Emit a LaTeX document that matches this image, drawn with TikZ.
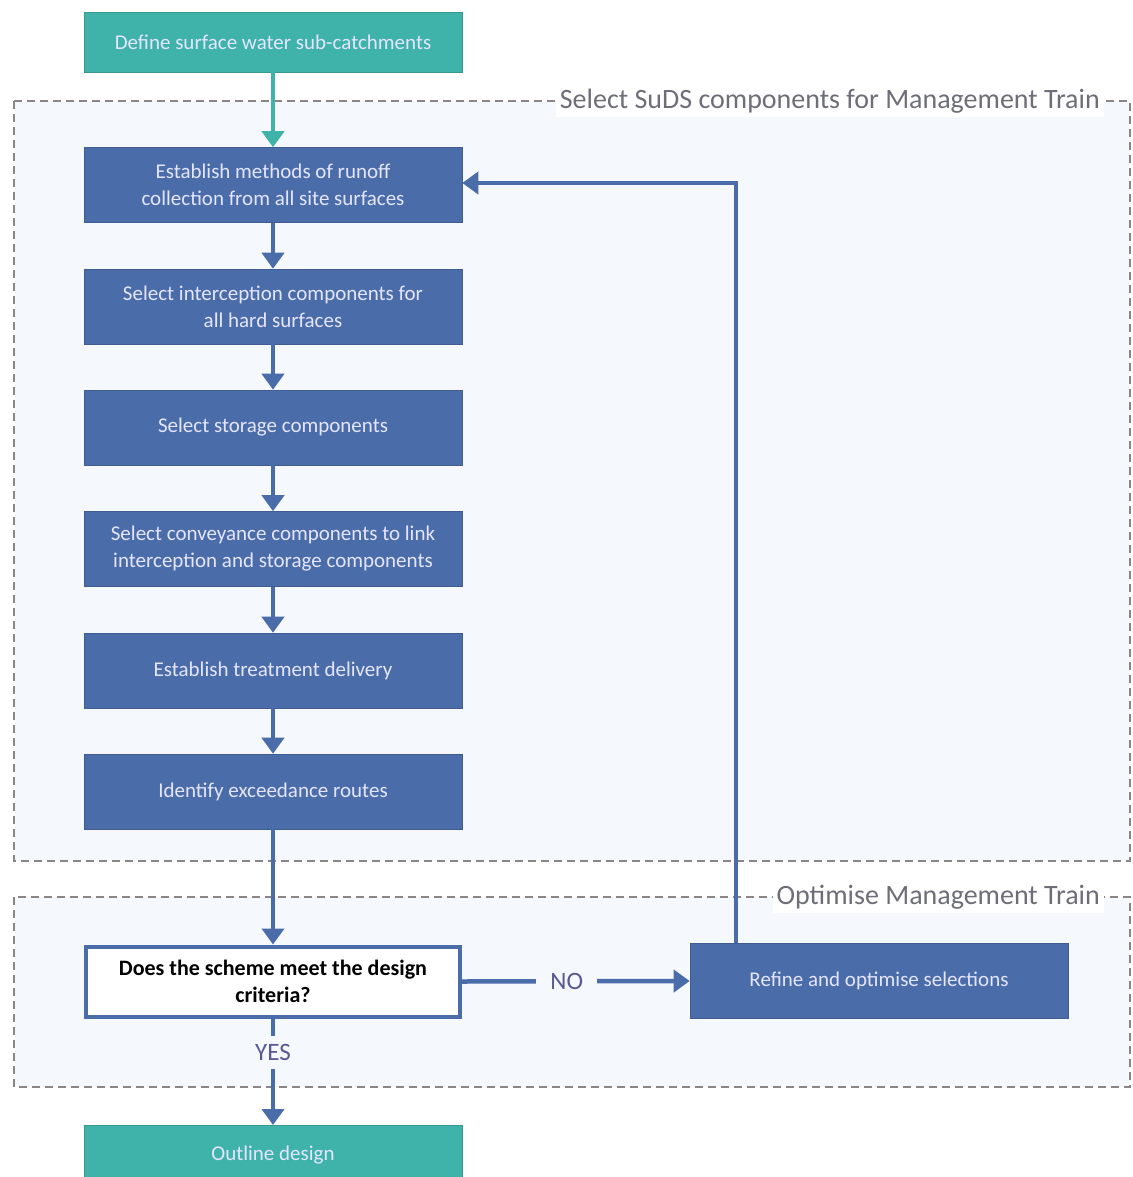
\documentclass[tikz,border=0pt]{standalone}
\usepackage{fontspec}
\setmainfont{Carlito}
\usetikzlibrary{arrows.meta}
\definecolor{boxblue}{HTML}{4A6DAA}
\definecolor{lineblue}{HTML}{4A6DAA}
\definecolor{teal1}{HTML}{3FB3AA}
\definecolor{dashgrey}{HTML}{8C8585}
\definecolor{regionbg}{HTML}{F5F8FC}
\definecolor{labelgrey}{HTML}{6E6E78}
\tikzset{
  x=1pt,y=-1pt,
  stepbox/.style={draw=boxblue!85!black, line width=0.6pt, fill=boxblue, text=white!90!blue,
    minimum width=378pt, minimum height=75pt, inner sep=0pt, align=center,
    font=\fontsize{21}{27}\selectfont},
  tealbox/.style={stepbox, draw=teal1!85!black, fill=teal1, minimum height=60pt},
  decbox/.style={draw=lineblue, line width=4pt, fill=white, text=black,
    minimum width=374pt, minimum height=70pt, inner sep=0pt, align=center,
    font=\bfseries\fontsize{22}{27}\selectfont},
  region/.style={draw=dashgrey, line width=2pt, dash pattern=on 8pt off 5pt, fill=regionbg},
  regionlabel/.style={fill=white, inner sep=4pt, text=labelgrey, font=\fontsize{28}{32}\selectfont},
  conn/.style={draw=lineblue, line width=4.5pt, -{Triangle[length=16pt,width=22pt]}},
  tealconn/.style={conn, draw=teal1},
  ynlabel/.style={fill=regionbg, inner xsep=14pt, inner ysep=6pt, text=labelgrey!80!blue, font=\fontsize{25}{30}\selectfont}
}
\begin{document}
\begin{tikzpicture}
\useasboundingbox (0,0) rectangle (1132,1177);
\clip (0,0) rectangle (1132,1177);
\fill[white] (0,0) rectangle (1132,1177);
% regions
\path[region] (14,101) rectangle (1130,861);
\path[region] (14,897) rectangle (1130,1087);
\node[regionlabel, anchor=east] (lab1) at (1104,101) {Select SuDS components for Management Train};
\node[regionlabel, anchor=east] (lab2) at (1104,897) {Optimise Management Train};
% boxes
\node[tealbox] (top) at (273,42) {Define surface water sub-catchments};
\node[stepbox] (b1) at (273,185) {Establish methods of runoff\\collection from all site surfaces};
\node[stepbox] (b2) at (273,306.5) {Select interception components for\\all hard surfaces};
\node[stepbox] (b3) at (273,427.5) {Select storage components};
\node[stepbox] (b4) at (273,549) {Select conveyance components to link\\interception and storage components};
\node[stepbox] (b5) at (273,670.5) {Establish treatment delivery};
\node[stepbox] (b6) at (273,791.5) {Identify exceedance routes};
\node[decbox] (dec) at (273,981.5) {Does the scheme meet the design\\criteria?};
\node[stepbox] (ref) at (879,981) {Refine and optimise selections};
\node[tealbox, anchor=north] (out) at (273,1125) {Outline design};
% connectors
\draw[tealconn] (top.south) -- (b1.north);
\draw[conn] (b1) -- (b2);
\draw[conn] (b2) -- (b3);
\draw[conn] (b3) -- (b4);
\draw[conn] (b4) -- (b5);
\draw[conn] (b5) -- (b6);
\draw[conn] (b6) -- (dec);
\coordinate (fbk) at (736,183);
\draw[conn] (ref.north -| fbk) -- (fbk) -- (b1.east |- fbk);
\draw[conn] (dec.east) -- node[ynlabel, pos=0.46] (no) {NO} (ref.west);
\draw[conn] (dec.south) -- node[ynlabel, inner xsep=4pt, inner ysep=8pt, pos=0.32] (yes) {YES} (out.north);
\end{tikzpicture}
\end{document}
